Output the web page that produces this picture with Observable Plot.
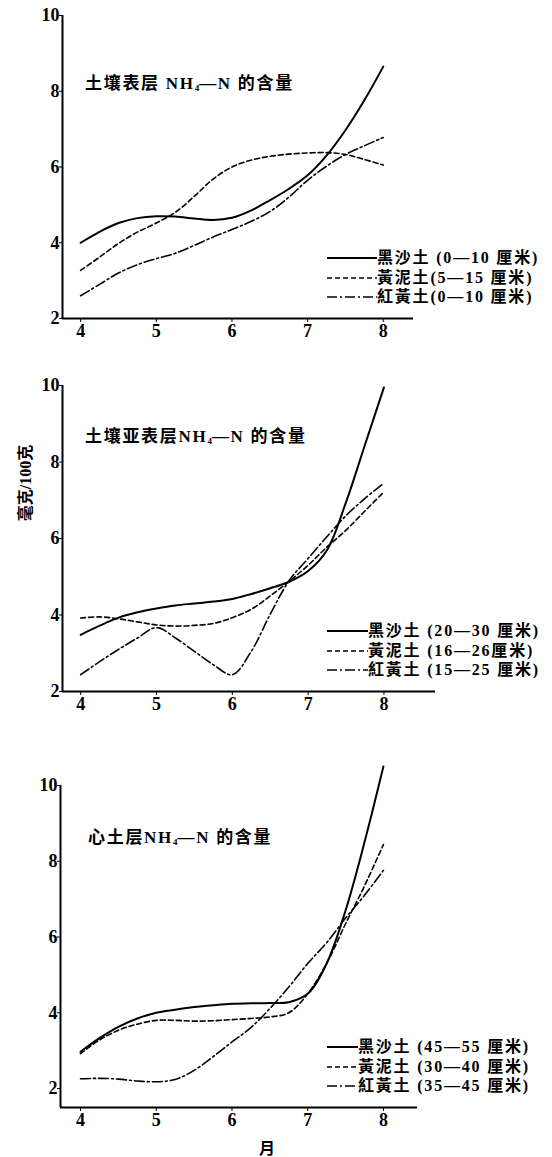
<!DOCTYPE html>
<html>
<head>
<meta charset="utf-8">
<script src="https://cdn.jsdelivr.net/npm/d3@7"></script>
<script src="https://cdn.jsdelivr.net/npm/@observablehq/plot@0.6"></script>
<style>
  html, body { margin: 0; padding: 0; background: #fff; }
  #page { position: relative; width: 552px; height: 1157px; background: #fff; overflow: hidden;
          font-family: "Liberation Serif", "Noto Sans CJK SC", serif; font-weight: bold; color: #000; }
  .panel { position: absolute; left: 0; }
  .panel svg text { font-size: 18px; font-weight: bold; font-family: "Liberation Serif", "Noto Sans CJK SC", serif; fill: #000; }
  .title { position: absolute; font-size: 17px; letter-spacing: 1.7px; white-space: nowrap; line-height: 18px; }
  .title sub { font-size: 9px; vertical-align: -2px; letter-spacing: 0; }
  .legend { position: absolute; font-size: 16px; letter-spacing: 1.8px; line-height: 19.5px; white-space: nowrap; }
  .legend .row { display: flex; align-items: center; height: 19.5px; }
  .legend svg { display: block; }
  .lab { position: absolute; font-size: 16px; white-space: nowrap; color: #000; }
  #ylab { position: absolute; left: 15px; top: 433px; }
</style>
</head>
<body>
<div id="page"></div>
<script>
// ---- data ----
const months = [4, 4.25, 4.5, 4.75, 5, 5.25, 5.5, 5.75, 6, 6.25, 6.5, 6.75, 7, 7.25, 7.5, 7.75, 8];
const xTicks = [4, 5, 6, 7, 8];
const yTicks = [2, 4, 6, 8, 10];
const seriesNames = ["黑沙土", "黃泥土", "紅黃土"];

// panel 1: 土壤表层
const p1Title = "土壤表层 NH₄—N 的含量";
const p1Legend = ["黑沙土 (0—10 厘米)", "黃泥土(5—15 厘米)", "紅黃土(0—10 厘米)"];
const p1Black  = [4.0, 4.29, 4.52, 4.65, 4.70, 4.69, 4.64, 4.60, 4.66, 4.85, 5.12, 5.42, 5.78, 6.30, 6.97, 7.76, 8.65];
const p1Yellow = [3.27, 3.62, 3.98, 4.28, 4.52, 4.80, 5.22, 5.68, 6.00, 6.18, 6.28, 6.34, 6.37, 6.38, 6.33, 6.20, 6.05];
const p1Red    = [2.60, 2.90, 3.20, 3.42, 3.58, 3.72, 3.93, 4.15, 4.35, 4.56, 4.82, 5.20, 5.65, 6.02, 6.33, 6.56, 6.78];

// panel 2: 土壤亚表层
const p2Title = "土壤亚表层NH₄—N 的含量";
const p2Legend = ["黑沙土 (20—30 厘米)", "黃泥土 (16—26厘米)", "紅黃土 (15—25 厘米)"];
const p2Black  = [3.48, 3.72, 3.93, 4.07, 4.17, 4.25, 4.30, 4.35, 4.42, 4.55, 4.70, 4.87, 5.15, 5.70, 6.95, 8.45, 9.95];
const p2Yellow = [3.92, 3.95, 3.90, 3.82, 3.74, 3.71, 3.73, 3.78, 3.93, 4.15, 4.50, 4.88, 5.30, 5.78, 6.22, 6.72, 7.22];
const p2Red    = [2.44, 2.78, 3.10, 3.40, 3.67, 3.40, 3.05, 2.70, 2.44, 3.05, 4.02, 4.90, 5.48, 6.05, 6.60, 7.05, 7.45];

// panel 3: 心土层
const p3Title = "心土层NH₄—N 的含量";
const p3Legend = ["黑沙土 (45—55 厘米)", "黃泥土 (30—40 厘米)", "紅黃土 (35—45 厘米)"];
const p3Black  = [2.97, 3.33, 3.63, 3.85, 4.00, 4.08, 4.15, 4.20, 4.24, 4.25, 4.26, 4.28, 4.50, 5.30, 6.70, 8.50, 10.5];
const p3Yellow = [2.92, 3.28, 3.54, 3.70, 3.80, 3.80, 3.78, 3.79, 3.82, 3.85, 3.89, 4.00, 4.50, 5.30, 6.35, 7.35, 8.44];
const p3Red    = [2.26, 2.27, 2.25, 2.20, 2.18, 2.24, 2.48, 2.84, 3.23, 3.61, 4.11, 4.68, 5.30, 5.85, 6.50, 7.10, 7.76];

const yAxisLabel = "毫克/100克";
const xAxisLabel = "月";

// ---- styles ----
const dashes = [null, "5,3", "10,3,2,3"];
const widths = [2, 1.6, 1.6];
const fontStack = "'Liberation Serif', 'Noto Sans CJK SC', serif";

const page = document.getElementById("page");

function panel(cfg) {
  const {top, height, mt, mb, ml, mr, xDomain, yDomain, series, title, titlePos, legend, legendPos, lineLen} = cfg;
  const marks = [
    Plot.ruleY([yDomain[0]], {stroke: "#000", strokeWidth: 2}),
    Plot.ruleX([xDomain[0]], {stroke: "#000", strokeWidth: 2}),
    Plot.axisX({ticks: xTicks, tickSize: 4, tickPadding: 2, fontSize: 18, tickFormat: d => String(d), label: null}),
    Plot.axisY({ticks: yTicks, tickSize: 3, tickPadding: 0, fontSize: 18, tickFormat: d => String(d), label: null})
  ];
  series.forEach((vals, i) => {
    const data = months.map((m, j) => ({m, v: vals[j]}));
    marks.push(Plot.line(data, {x: "m", y: "v", curve: "catmull-rom", stroke: "#000",
      strokeWidth: widths[i], strokeDasharray: dashes[i] || undefined}));
  });
  const chart = Plot.plot({
    width: 552, height,
    marginTop: mt, marginBottom: mb, marginLeft: ml, marginRight: mr,
    x: {domain: xDomain},
    y: {domain: yDomain},
    style: {fontFamily: fontStack, fontSize: "18px", fontWeight: "bold", background: "transparent", color: "#000", overflow: "visible"},
    marks
  });
  const wrap = document.createElement("div");
  wrap.className = "panel";
  wrap.style.top = top + "px";
  wrap.appendChild(chart);
  page.appendChild(wrap);

  const t = document.createElement("div");
  t.className = "title";
  t.style.left = titlePos[0] + "px";
  t.style.top = (titlePos[1] - 9) + "px";
  t.innerHTML = title.replace("₄", "<sub>4</sub>");
  page.appendChild(t);

  const lg = document.createElement("div");
  lg.className = "legend";
  lg.style.left = legendPos[0] + "px";
  lg.style.top = (legendPos[1] - 9.75) + "px";
  legend.forEach((txt, i) => {
    const row = document.createElement("div");
    row.className = "row";
    const ns = "http://www.w3.org/2000/svg";
    const svg = document.createElementNS(ns, "svg");
    svg.setAttribute("width", lineLen);
    svg.setAttribute("height", 10);
    const ln = document.createElementNS(ns, "line");
    ln.setAttribute("x1", 0); ln.setAttribute("x2", lineLen);
    ln.setAttribute("y1", 5); ln.setAttribute("y2", 5);
    ln.setAttribute("stroke", "#000");
    ln.setAttribute("stroke-width", widths[i]);
    if (dashes[i]) ln.setAttribute("stroke-dasharray", dashes[i]);
    svg.appendChild(ln);
    row.appendChild(svg);
    const sp = document.createElement("span");
    sp.textContent = txt;
    row.appendChild(sp);
    lg.appendChild(row);
  });
  page.appendChild(lg);
}

panel({top: 0, height: 345, mt: 15, mb: 27, ml: 62, mr: 139,
  xDomain: [3.76, 8.40], yDomain: [2, 10],
  series: [p1Black, p1Yellow, p1Red], title: p1Title, titlePos: [85, 84],
  legend: p1Legend, legendPos: [327, 258], lineLen: 50});

panel({top: 360, height: 360, mt: 25, mb: 29, ml: 62, mr: 117,
  xDomain: [3.76, 8.68], yDomain: [2, 10],
  series: [p2Black, p2Yellow, p2Red], title: p2Title, titlePos: [85, 437],
  legend: p2Legend, legendPos: [327, 631], lineLen: 41});

panel({top: 760, height: 397, mt: 25, mb: 50, ml: 60, mr: 135,
  xDomain: [3.736, 8.45], yDomain: [1.5, 10],
  series: [p3Black, p3Yellow, p3Red], title: p3Title, titlePos: [88, 838],
  legend: p3Legend, legendPos: [327, 1047], lineLen: 31});

// y axis caption as svg text (rotated)
const ns = "http://www.w3.org/2000/svg";
const ysvg = document.createElementNS(ns, "svg");
ysvg.setAttribute("id", "ylab");
ysvg.setAttribute("width", 22);
ysvg.setAttribute("height", 100);
const yt = document.createElementNS(ns, "text");
yt.setAttribute("transform", "translate(16,50) rotate(-90)");
yt.setAttribute("text-anchor", "middle");
yt.setAttribute("fill", "#000");
yt.setAttribute("font-size", "16");
yt.setAttribute("font-weight", "bold");
yt.setAttribute("font-family", fontStack);
yt.textContent = yAxisLabel;
ysvg.appendChild(yt);
page.appendChild(ysvg);

const xl = document.createElement("div");
xl.className = "lab";
xl.textContent = xAxisLabel;
xl.style.left = "267px"; xl.style.top = "1147px";
xl.style.transform = "translate(-50%,-50%)";
page.appendChild(xl);
</script>
</body>
</html>
